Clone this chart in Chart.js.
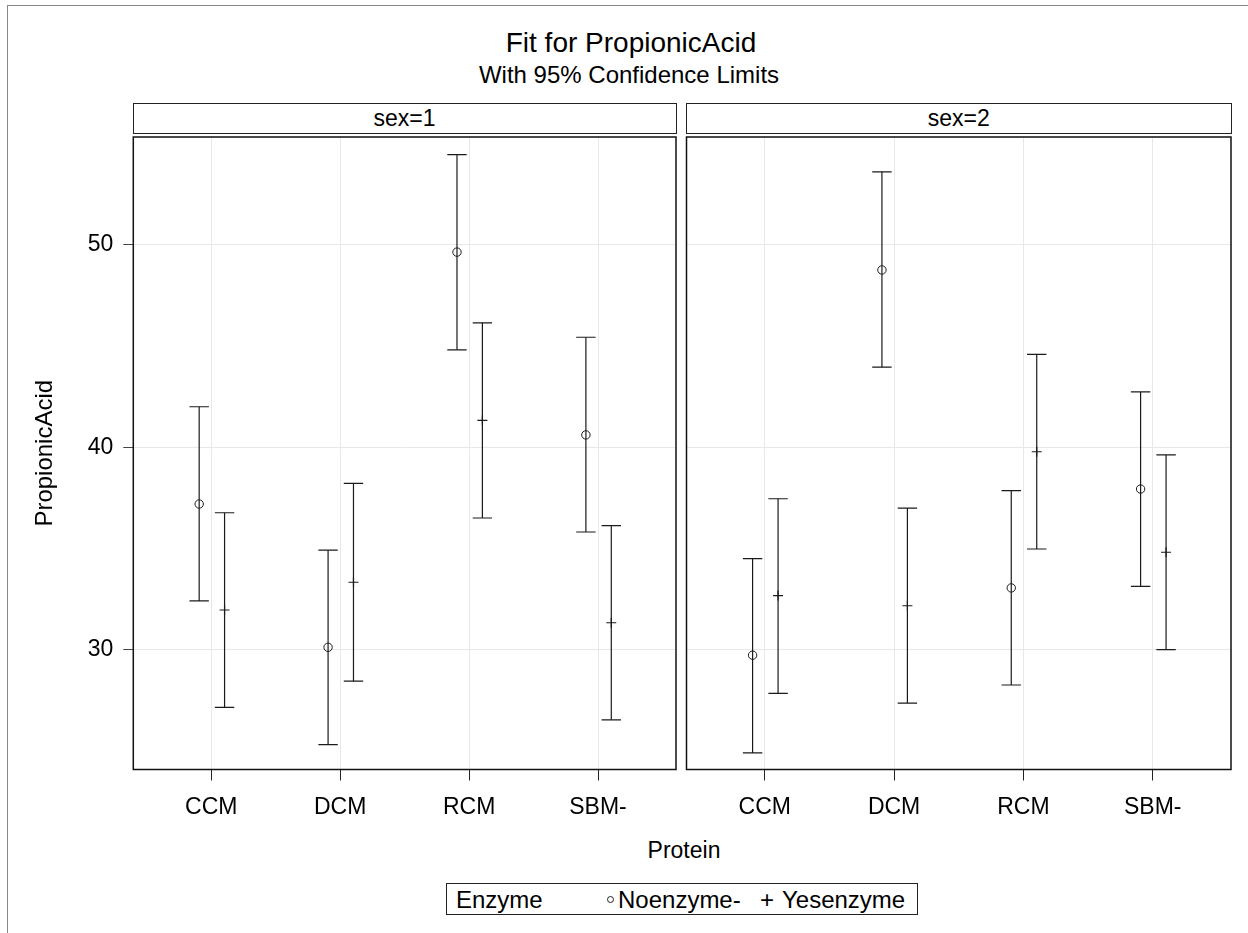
<!DOCTYPE html>
<html>
<head>
<meta charset="utf-8">
<script src="https://cdn.jsdelivr.net/npm/chart.js@4.4.1/dist/chart.umd.min.js"></script>
<style>
body { margin: 0; background: #fff; font-family: "Liberation Sans", Arial, sans-serif; color: #000; }
#page { position: relative; width: 1248px; height: 933px; overflow: hidden; }
#frame { position: absolute; left: 7px; top: 5px; width: 1260px; height: 960px; border-top: 1px solid #888; border-left: 1px solid #888; }
.txt { position: absolute; white-space: nowrap; line-height: 1; transform: translateX(-50%); }
#title { left: 631px; top: 28.6px; font-size: 28px; }
#subtitle { left: 629px; top: 63px; font-size: 24px; }
.head { position: absolute; top: 102.5px; height: 31px; border: 1px solid #222; box-sizing: border-box;
        display: flex; align-items: center; justify-content: center; font-size: 23px; }
#xtitle { left: 684px; top: 838.5px; font-size: 23px; }
#legend { position: absolute; left: 446px; top: 882.7px; width: 472px; height: 32.5px; border: 1px solid #222; box-sizing: border-box; font-size: 24px; }
#legend span { position: absolute; top: 4px; line-height: 1; white-space: nowrap; }
#legend .circ { top: 12px; width: 7px; height: 7px; border: 1px solid #222; border-radius: 50%; box-sizing: border-box; }
canvas { position: absolute; }
</style>
</head>
<body>
<div id="page">
  <div id="frame"></div>
  <div class="txt" id="title">Fit for PropionicAcid</div>
  <div class="txt" id="subtitle">With 95% Confidence Limits</div>
  <div class="head" style="left:132.5px; width:544px;">sex=1</div>
  <div class="head" style="left:686px; width:545.5px;">sex=2</div>
  <canvas id="c1" width="682" height="700" style="left:0; top:130px;"></canvas>
  <canvas id="c2" width="568" height="700" style="left:680px; top:130px;"></canvas>
  <div class="txt" id="xtitle">Protein</div>
  <div id="legend">
    <span style="left:9px;">Enzyme</span>
    <span class="circ" style="left:159.5px;"></span>
    <span style="left:171px;">Noenzyme-</span>
    <span style="left:313px; font-weight:300;">+</span>
    <span style="left:335px;">Yesenzyme</span>
  </div>
</div>
<script>
const categories = ['CCM', 'DCM', 'RCM', 'SBM-'];
const yTicks = [30, 40, 50];

// sex=1
const sex1NoEst = [37.2, 30.13, 49.63, 40.61];
const sex1NoLow = [32.42, 25.33, 44.81, 35.82];
const sex1NoHigh = [42.0, 34.92, 54.44, 45.43];
const sex1YesEst = [31.97, 33.34, 41.33, 31.34];
const sex1YesLow = [27.17, 28.46, 36.51, 26.55];
const sex1YesHigh = [36.77, 38.22, 46.14, 36.13];

// sex=2
const sex2NoEst = [29.74, 48.75, 33.06, 37.94];
const sex2NoLow = [24.92, 43.95, 28.27, 33.14];
const sex2NoHigh = [34.51, 53.59, 37.86, 42.73];
const sex2YesEst = [32.68, 32.18, 39.78, 34.82];
const sex2YesLow = [27.86, 27.38, 34.98, 30.02];
const sex2YesHigh = [37.46, 37.0, 44.58, 39.62];

const offNo = -0.094, offYes = 0.103;
const ink = '#1a1a1a';

Chart.defaults.font.family = '"Liberation Sans", Arial, sans-serif';
Chart.defaults.color = '#000';

const framePlugin = {
  id: 'frame',
  afterDraw(chart) {
    const a = chart.chartArea, ctx = chart.ctx;
    ctx.save();
    ctx.strokeStyle = '#111';
    ctx.lineWidth = 1.5;
    ctx.strokeRect(a.left, a.top, a.right - a.left, a.bottom - a.top);
    ctx.restore();
  }
};

function whiskers(low, high, off) {
  return low.flatMap((v, i) => [
    { x: i + off, y: v },
    { x: i + off, y: high[i] },
    { x: i + off, y: null }
  ]);
}

function points(est, off) {
  return est.map((v, i) => ({ x: i + off, y: v }));
}

function noPad(s) {
  s.paddingLeft = 0; s.paddingRight = 0; s.paddingTop = 0; s.paddingBottom = 0;
}

function makePanel(id, noEst, noLow, noHigh, yesEst, yesLow, yesHigh, showY) {
  const whiskerStyle = {
    type: 'line', showLine: true, spanGaps: false,
    borderColor: ink, borderWidth: 1.2,
    pointStyle: 'line', pointRadius: 9.7, pointBorderWidth: 1.2,
    pointBorderColor: ink, pointHoverRadius: 9.7
  };
  new Chart(document.getElementById(id), {
    type: 'scatter',
    data: {
      datasets: [
        Object.assign({ data: whiskers(noLow, noHigh, offNo) }, whiskerStyle),
        Object.assign({ data: whiskers(yesLow, yesHigh, offYes) }, whiskerStyle),
        { data: points(noEst, offNo), pointStyle: 'circle', pointRadius: 4.2, pointBorderWidth: 1,
          pointBorderColor: ink, pointBackgroundColor: 'rgba(0,0,0,0)' },
        { data: points(yesEst, offYes), pointStyle: 'cross', pointRadius: 5, pointBorderWidth: 1.2,
          pointBorderColor: ink }
      ]
    },
    options: {
      responsive: false,
      animation: false,
      devicePixelRatio: 1,
      layout: {
        autoPadding: false,
        padding: showY ? { top: 7, right: 6, left: 0, bottom: 0 } : { top: 7, right: 17, left: 0, bottom: 0 }
      },
      plugins: { legend: { display: false }, tooltip: { enabled: false } },
      events: [],
      scales: {
        x: {
          type: 'linear', min: -0.605, max: 3.605,
          border: { display: false },
          grid: { color: '#e8e8e8', tickColor: '#222', tickLength: 11 },
          ticks: { font: { size: 23 }, padding: 13, maxRotation: 0,
                   callback: v => categories[v] },
          afterBuildTicks: s => { s.ticks = categories.map((c, i) => ({ value: i })); },
          afterFit: s => { s.height = 60.5; noPad(s); }
        },
        y: {
          min: 24.1, max: 55.31,
          border: { display: false },
          grid: { color: '#e8e8e8', tickColor: '#444', tickLength: 10, drawTicks: showY },
          ticks: { display: showY, font: { size: 23 }, padding: 10 },
          title: { display: showY, text: 'PropionicAcid', font: { size: 24 }, padding: { top: 30.6, bottom: 0 } },
          afterBuildTicks: s => { s.ticks = yTicks.map(v => ({ value: v })); },
          afterFit: s => { s.width = showY ? 133.3 : 6.5; noPad(s); }
        }
      }
    },
    plugins: [framePlugin]
  });
}

makePanel('c1', sex1NoEst, sex1NoLow, sex1NoHigh, sex1YesEst, sex1YesLow, sex1YesHigh, true);
makePanel('c2', sex2NoEst, sex2NoLow, sex2NoHigh, sex2YesEst, sex2YesLow, sex2YesHigh, false);
</script>
</body>
</html>
